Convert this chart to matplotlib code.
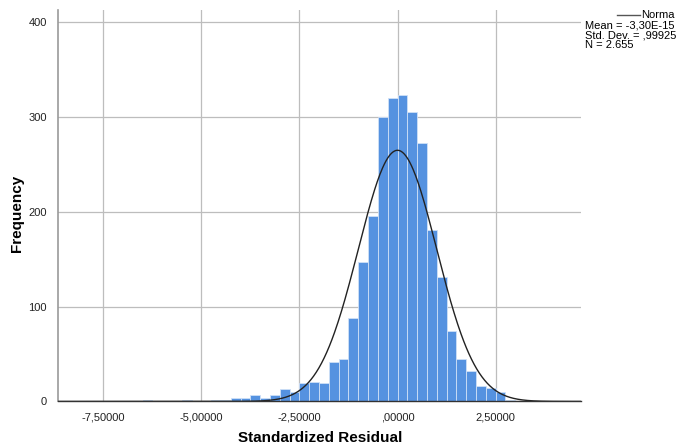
"""
SPSS-style histogram of standardized residuals with a normal curve.
"""
import numpy as np
import matplotlib
matplotlib.use("Agg")
import matplotlib.pyplot as plt

# histogram bins (left edges, width 0.25) and counts
bin_width = 0.25
bin_left = [-6.5, -5.5, -5.25, -5.0, -4.75, -4.5, -4.25, -4.0, -3.75, -3.5,
            -3.25, -3.0, -2.75, -2.5, -2.25, -2.0, -1.75, -1.5, -1.25, -1.0,
            -0.75, -0.5, -0.25, 0.0, 0.25, 0.5, 0.75, 1.0, 1.25, 1.5,
            1.75, 2.0, 2.25, 2.5, 2.75, 3.0]
counts = [2, 2, 1, 1, 2, 2, 4, 4, 7, 4,
          7, 13, 10, 19, 21, 20, 42, 45, 88, 147,
          196, 300, 320, 323, 305, 273, 181, 131, 74, 45,
          32, 16, 14, 10, 2, 1]

# summary statistics shown in the legend
mean = -3.30e-15
std_dev = 0.99925
n_obs = 2655
legend_lines = ['Mean = -3,30E-15', 'Std. Dev. = ,99925', 'N = 2.655']

x_ticks = [-7.5, -5.0, -2.5, 0.0, 2.5]
x_tick_labels = ["-7,50000", "-5,00000", "-2,50000", ",00000", "2,50000"]
y_ticks = [0, 100, 200, 300, 400]

plt.rcParams['font.family'] = ['Liberation Sans', 'DejaVu Sans']

fig = plt.figure(figsize=(6.94, 4.46), dpi=100)
ax = fig.add_axes([0.0834, 0.0998, 0.7533, 0.8778])

ax.set_xlim(-8.66, 4.67)
ax.set_ylim(0, 413)

# grid
ax.set_axisbelow(True)
ax.set_xticks(x_ticks)
ax.set_xticklabels(x_tick_labels)
ax.set_yticks(y_ticks)
ax.grid(True, color='#bdbdbd', linewidth=0.9)

# bars
ax.bar(bin_left, counts, width=bin_width, align='edge',
       color='#5592e0', edgecolor='#cfe0f7', linewidth=0.6, zorder=2)

# normal curve scaled to counts
xs = np.linspace(-8.66, 4.67, 600)
ys = n_obs * bin_width * np.exp(-0.5 * ((xs - mean) / std_dev) ** 2) / (std_dev * np.sqrt(2 * np.pi))
ax.plot(xs, ys, color='#222222', linewidth=1.0, zorder=3)

# spines
for side in ['top', 'right']:
    ax.spines[side].set_visible(False)
ax.spines['left'].set_color('#9a9a9a')
ax.spines['left'].set_linewidth(1.2)
ax.spines['bottom'].set_color('#333333')
ax.spines['bottom'].set_linewidth(1.0)
ax.spines['bottom'].set_zorder(4)

ax.tick_params(axis='both', length=0, labelsize=8, labelcolor='#222222')
ax.tick_params(axis='x', pad=8)
ax.tick_params(axis='y', pad=8)

# axis titles placed in figure coordinates
fig.text(320 / 694, 1 - 438 / 446, 'Standardized Residual', fontsize=11,
         fontweight='bold', ha='center', va='center')
fig.text(17 / 694, 1 - 213 / 446, 'Frequency', fontsize=11, fontweight='bold',
         ha='center', va='center', rotation=90)

# legend box outside the axes (SPSS style)
fig.add_artist(plt.Line2D([617 / 694, 640 / 694], [1 - 15 / 446, 1 - 15 / 446],
                          color='#555555', linewidth=1.0))
fig.text(641 / 694, 1 - 15 / 446, 'Norma', fontsize=8, va='center', ha='left')
for i, line in enumerate(legend_lines):
    fig.text(585 / 694, 1 - (25 + 10 * i) / 446, line,
             fontsize=8, va='center', ha='left')

fig.savefig('out.png', dpi=100)
